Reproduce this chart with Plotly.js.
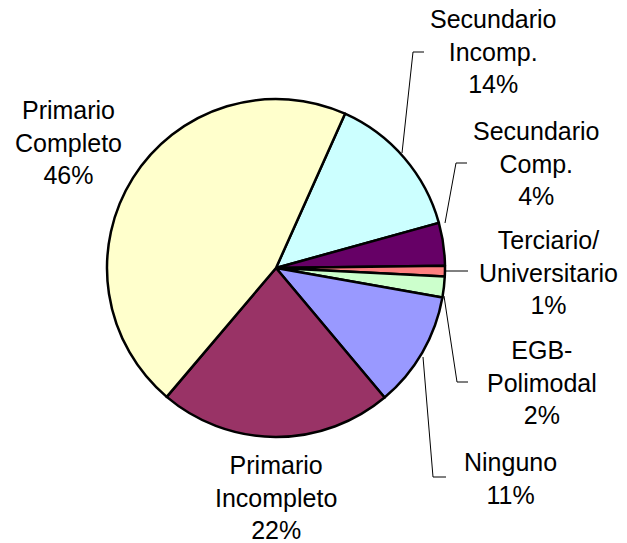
<!DOCTYPE html>
<html>
<head>
<meta charset="utf-8">
<script src="https://cdn.plot.ly/plotly-3.0.1.min.js"></script>
<style>html,body{margin:0;padding:0;background:#fff;}</style>
</head>
<body>
<div id="chart" style="width:627px;height:543px;"></div>
<script>
// Data
const categories = ["Secundario Incomp.", "Secundario Comp.", "Terciario/ Universitario", "EGB-Polimodal", "Ninguno", "Primario Incompleto", "Primario Completo"];
const values = [14.0, 4.1, 1.0, 2.0, 11.1, 22.3, 45.5];
const pctLabels = ["14%", "4%", "1%", "2%", "11%", "22%", "46%"];
const labelLines = [
  ["Secundario", "Incomp."],
  ["Secundario", "Comp."],
  ["Terciario/", "Universitario"],
  ["EGB-", "Polimodal"],
  ["Ninguno"],
  ["Primario", "Incompleto"],
  ["Primario", "Completo"]
];
const colors = ["#CCFFFF", "#660066", "#FF8080", "#CCFFCC", "#9999FF", "#993366", "#FFFFCC"];

const W = 627, H = 543;
const cx = 276, cy = 268, R = 169;
const px = x => x / W;
const py = y => 1 - y / H;

// label centres (pixels)
const labelPos = [
  [493, 52], [536, 163], [548, 272], [542, 382], [510, 478], [276, 497], [68, 142]
];
// leader lines (pixels)
const leaders = [
  [[402, 153], [413, 52], [424, 52]],
  [[445, 223], [456, 163], [467, 163]],
  [[446, 271], [468, 271]],
  [[444, 296], [457, 382], [468, 382]],
  [[423, 357], [433, 477], [446, 477]],
  null,
  null
];

const annotations = categories.map((c, i) => ({
  xref: 'paper', yref: 'paper',
  x: px(labelPos[i][0]), y: py(labelPos[i][1]),
  xanchor: 'center', yanchor: 'middle',
  text: labelLines[i].concat([pctLabels[i]]).join('<br>'),
  showarrow: false,
  align: 'center',
  font: {family: 'Liberation Sans, Arial, sans-serif', size: 25, color: '#000'}
}));

const shapes = leaders.filter(l => l).map(pts => ({
  type: 'path', xref: 'paper', yref: 'paper',
  path: pts.map((p, j) => (j ? 'L' : 'M') + px(p[0]) + ',' + py(p[1])).join(' '),
  line: {color: '#000', width: 1}
}));

const trace = {
  type: 'pie',
  labels: categories,
  values: values,
  sort: false,
  direction: 'clockwise',
  rotation: 24.1,
  textinfo: 'none',
  hoverinfo: 'label+percent',
  marker: {colors: colors, line: {color: '#000', width: 2.5}},
  domain: {x: [px(cx - R), px(cx + R)], y: [py(cy + R), py(cy - R)]},
  showlegend: false
};

Plotly.newPlot('chart', [trace], {
  width: W, height: H,
  margin: {l: 0, r: 0, t: 0, b: 0},
  paper_bgcolor: '#fff',
  showlegend: false,
  annotations: annotations,
  shapes: shapes
}, {displayModeBar: false, staticPlot: true});
</script>
</body>
</html>
